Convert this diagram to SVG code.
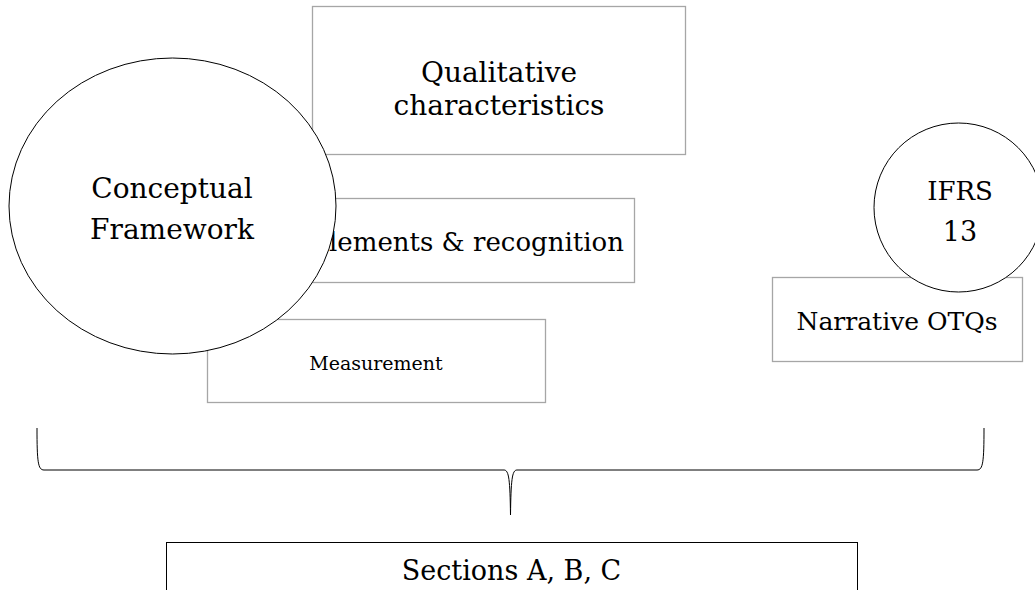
<svg xmlns="http://www.w3.org/2000/svg" width="1035" height="590" viewBox="0 0 1035 590">
<style>
.box{fill:#fff;stroke:#a6a6a6;stroke-width:1.3}
.circ{fill:#fff;stroke:#000;stroke-width:1}
.t{font-family:"DejaVu Serif","Liberation Serif",serif;fill:#000;text-anchor:middle;font-size:28px}
.s{font-size:19px}
.m26{font-size:26px}
.m25{font-size:25px}
.m27{font-size:27px}
</style>
<rect width="1035" height="590" fill="#fff"/>
<g id="qualitative">
<rect class="box" x="312.5" y="6.5" width="373" height="148"/>
<text class="t" x="499" y="82">Qualitative</text>
<text class="t" x="499" y="115">characteristics</text>
</g>
<g id="elements">
<rect class="box" x="300.5" y="198.5" width="334" height="84"/>
<text class="t m26" x="467" y="251">Elements &amp; recognition</text>
</g>
<g id="measurement">
<rect class="box" x="207.5" y="319.5" width="338" height="83"/>
<text class="t s" x="376" y="370">Measurement</text>
</g>
<g id="conceptual">
<ellipse class="circ" cx="172.5" cy="206" rx="163.5" ry="148"/>
<text class="t" x="172" y="198">Conceptual</text>
<text class="t" x="172" y="239">Framework</text>
</g>
<g id="narrative">
<rect class="box" x="772.5" y="277.5" width="250" height="84"/>
<text class="t m25" x="897" y="330">Narrative OTQs</text>
</g>
<g id="ifrs">
<circle class="circ" cx="958.5" cy="207.5" r="84.5"/>
<text class="t m26" x="960" y="200">IFRS</text>
<text class="t m27" x="960" y="241">13</text>
</g>
<g id="connectors">
<path d="M37,428 C37,462 38,470 44,470 L504,470 C509,470 510,480 510.5,515 C511,480 512,470 517,470 L977,470 C983,470 984,462 984,428" fill="none" stroke="#000" stroke-width="1"/>
</g>
<g id="sections">
<rect x="166.5" y="542.5" width="691" height="60" fill="#fff" stroke="#000" stroke-width="1"/>
<text class="t m27" x="511.5" y="580">Sections A, B, C</text>
</g>
</svg>
